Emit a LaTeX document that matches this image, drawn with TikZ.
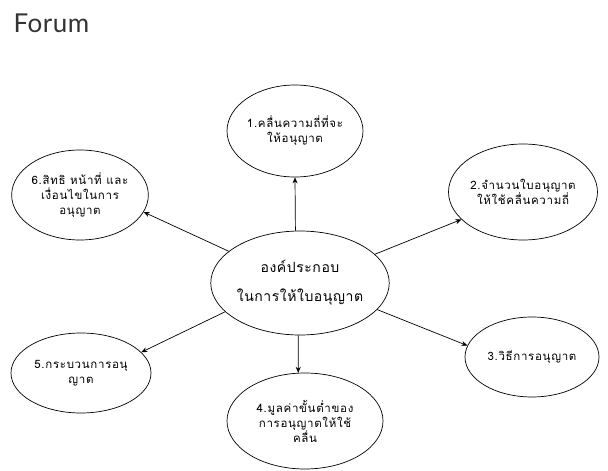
\documentclass[tikz,border=0pt]{standalone}
\usepackage{fontspec}
\newfontfamily\thaifont[Script=Thai,LetterSpace=6]{Loma}
\newfontfamily\thaicfont[Script=Thai,LetterSpace=4]{Loma}
\newfontfamily\forumfont[LetterSpace=2]{Lato}
\usetikzlibrary{shapes.geometric,arrows.meta}
\begin{document}
\begin{tikzpicture}[x=1pt,y=-1pt,
  bubble/.style={draw=black,line width=0.7pt,ellipse,inner sep=0pt,align=center,
    font=\thaifont\fontsize{11.5}{15}\selectfont,text=black},
  arr/.style={-{Stealth[length=6pt,width=5pt]},line width=0.7pt}]
\useasboundingbox (0,0) rectangle (608,471);
\node[anchor=west,font=\forumfont\fontsize{26}{28}\selectfont,text=black!80] (title) at (10,23) {Forum};

\node[bubble,minimum width=176pt,minimum height=104pt,
  font=\thaicfont\fontsize{14}{29}\selectfont] (c) at (300,283) {องค์ประกอบ\\ในการให้ใบอนุญาต};

\node[bubble,minimum width=136pt,minimum height=92pt] (e1) at (295,131) {1.คลื่นความถี่ที่จะ\\ให้อนุญาต};
\node[bubble,minimum width=140pt,minimum height=96pt] (e2) at (523,192) {2.จำนวนใบอนุญาต\\ให้ใช้คลื่นความถี่};
\node[bubble,minimum width=134pt,minimum height=80pt] (e3) at (532,357) {3.วิธีการอนุญาต};
\node[bubble,minimum width=156pt,minimum height=96pt] (e4) at (305,421) {4.มูลค่าขั้นต่ำของ\\การอนุญาตให้ใช้\\คลื่น};
\node[bubble,minimum width=140pt,minimum height=80pt] (e5) at (81,373) {5.กระบวนการอนุ\\ญาต};
\node[bubble,minimum width=136pt,minimum height=90pt] (e6) at (80,195) {6.สิทธิ หน้าที่ และ\\เงื่อนไขในการ\\อนุญาต};

\draw[arr] (c.95) -- (e1.270);
\draw[arr] (c.21) -- (e2.204);
\draw[arr] (c.-19) -- (e3.170);
\draw[arr] (c.-92) -- (e4.98);
\draw[arr] (c.201) -- (e5.19);
\draw[arr] (c.156) -- (e6.-15);
\end{tikzpicture}
\end{document}
